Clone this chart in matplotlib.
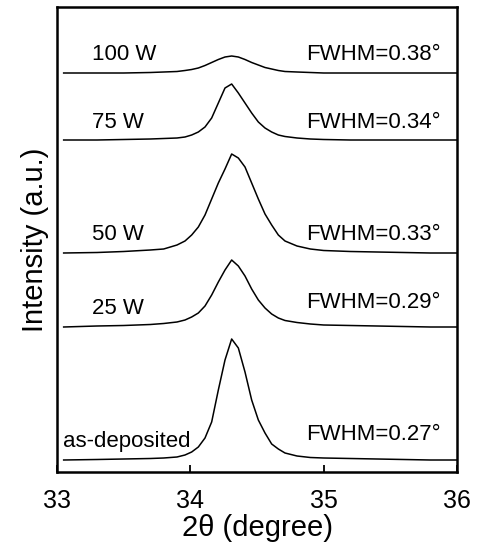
import numpy as np
import matplotlib
matplotlib.use("Agg")
import matplotlib.pyplot as plt

plt.rcParams['font.family'] = ['Liberation Sans', 'DejaVu Sans']

# =============================================================================
# data (intensity in arbitrary units above each baseline)
# =============================================================================
two_theta = [33.05, 33.3, 33.5, 33.7, 33.8, 33.9, 33.96, 34.01, 34.06, 34.11,
             34.16, 34.21, 34.26, 34.31, 34.36, 34.41, 34.46, 34.51, 34.56,
             34.61, 34.66, 34.71, 34.8, 34.9, 35.0, 35.2, 35.4, 35.6, 35.8, 36.0]

as_dep = [0, 0.5, 1, 1.5, 2, 3, 5, 8, 13, 22, 38, 70, 100, 121, 112, 88, 60,
          40, 27, 16, 11, 7, 4, 2.5, 2, 1.5, 1, 0.5, 0, 0]
w25 = [0, 1, 1.5, 2.5, 3.5, 5, 7, 10, 14, 21, 32, 45, 57, 67, 61, 51, 38, 27,
       19, 13, 9, 6.5, 4.5, 3, 2, 1.5, 1, 0.5, 0, 0]
w50 = [0, 0.5, 1.5, 3, 4, 8, 12, 18, 26, 38, 54, 70, 84, 99, 95, 86, 70, 54,
       39, 28, 18, 12, 7, 4, 2.5, 1.5, 1, 0.5, 0, 0]
w75 = [0, 0, 0.5, 1, 1.5, 2, 3, 5, 8, 13, 22, 37, 52, 56, 47, 37, 27, 18, 12,
       8, 5, 3.5, 2, 1, 0.5, 0, 0, 0, 0, 0]
w100 = [0, 0, 0, 0.5, 1, 1.5, 2.5, 3.5, 5, 7.5, 10.5, 13.5, 16, 17, 16, 13.5,
        10.5, 8, 5.5, 4, 2.5, 1.5, 1, 0.5, 0, 0, 0, 0, 0, 0]

series = [as_dep, w25, w50, w75, w100]
offsets = [12, 145, 219, 332, 399]
names = ["as-deposited", "25 W", "50 W", "75 W", "100 W"]
fwhm = ["FWHM=0.27\u00b0", "FWHM=0.29\u00b0", "FWHM=0.33\u00b0",
        "FWHM=0.34\u00b0", "FWHM=0.38\u00b0"]
name_y = [30, 163, 237, 349, 418]
fwhm_y = [37, 169, 237, 349, 418]

# =============================================================================
# plot
# =============================================================================
fig = plt.figure(figsize=(4.8, 5.53), dpi=100)
ax = fig.add_axes([57/480, 81/553, 400/480, 465/553])

for s, off in zip(series, offsets):
    ax.plot(two_theta, np.array(s) + off, c="k", lw=1.1)

for i in range(len(names)):
    x_name = 33.045 if names[i] == "as-deposited" else 33.26
    ax.text(x_name, name_y[i], names[i], fontsize=16, va="center", ha="left")
    ax.text(35.88, fwhm_y[i], fwhm[i], fontsize=16, va="center", ha="right")

ax.set_xlim(33, 36)
ax.set_ylim(0, 465)
ax.set_xticks([33, 34, 35, 36])
ax.set_yticks([])
ax.tick_params(axis="x", direction="in", length=5, width=1.3,
               labelsize=18, pad=12)
for sp in ax.spines.values():
    sp.set_linewidth(1.8)

ax.set_xlabel("2\u03b8 (degree)", fontsize=21, labelpad=1)
ax.set_ylabel("Intensity (a.u.)", fontsize=21, labelpad=6)

fig.savefig("out.png", dpi=100)
